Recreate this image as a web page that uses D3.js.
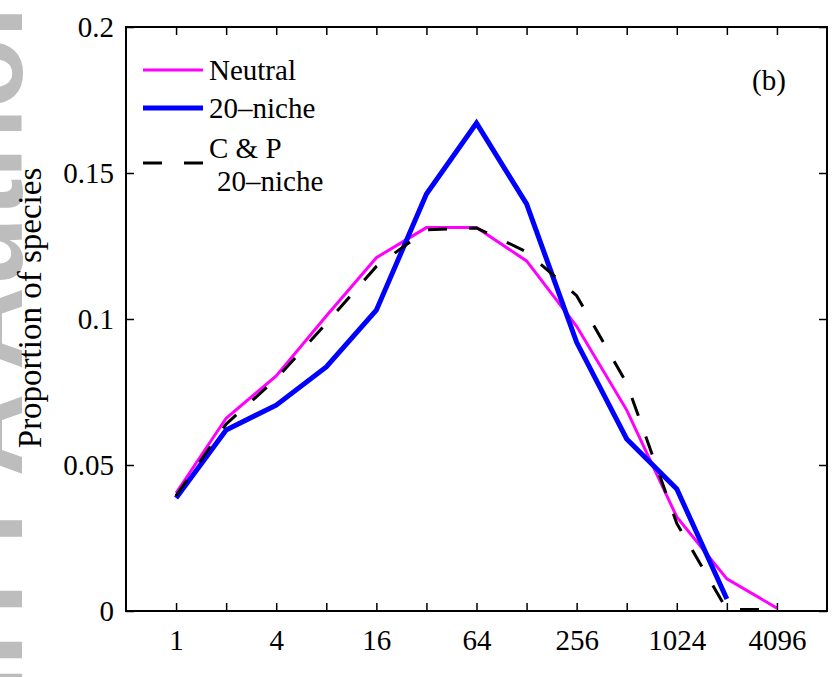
<!DOCTYPE html>
<html>
<head>
<meta charset="utf-8">
<script src="https://cdn.jsdelivr.net/npm/d3@7"></script>
<style>
  body { margin: 0; background: #fff; }
  svg { display: block; font-family: "Liberation Serif", "Times New Roman", serif; }
</style>
</head>
<body>
<div id="chart"></div>
<script>
// community size classes (log2 bins) and the three curves
var bins = [1, 2, 4, 8, 16, 32, 64, 128, 256, 512, 1024, 2048, 4096]
var neutral = [0.0404, 0.0660, 0.0805, 0.1010, 0.1210, 0.1313, 0.1313, 0.1199, 0.0975, 0.0688, 0.0322, 0.0110, 0.0010]
var niche20 = [0.0387, 0.0620, 0.0705, 0.0836, 0.1030, 0.1428, 0.1671, 0.1394, 0.0920, 0.0589, 0.0418, 0.0041]
var cpNiche = [0.0395, 0.0640, 0.0795, 0.0985, 0.1180, 0.1305, 0.1312, 0.1230, 0.1080, 0.0780, 0.0300, 0.0005, 0.0005]
var xTickLabels = [1, 4, 16, 64, 256, 1024, 4096]
var yTicks = [0, 0.05, 0.1, 0.15, 0.2]

var W = 835, H = 677
var m = {left: 126, top: 27, right: 827, bottom: 611}

var svg = d3.select("#chart").append("svg").attr("width", W).attr("height", H)
svg.append("rect").attr("width", W).attr("height", H).attr("fill", "#fff")

// faint watermark, only its edge shows at the left of the figure
var wm = svg.append("text")
  .style("font-family", "Liberation Sans, Arial, sans-serif")
  .style("font-weight", "bold")
  .style("font-size", "115px")
  .attr("fill", "#bdbdbd")
  .text("NIH-PA Author Manuscript")
var aPos = wm.node().getStartPositionOfChar(7).x
wm.attr("transform", "translate(22," + (370 + aPos) + ") rotate(-90)")

var x = d3.scaleLog().base(2).domain([0.5, 8192]).range([m.left, m.right])
var y = d3.scaleLinear().domain([0, 0.2]).range([m.bottom, m.top])

var g = svg.append("g")

var line = d3.line().x(function(d, i) { return x(bins[i]) }).y(function(d) { return y(d) })

g.append("path").datum(neutral).attr("d", line)
  .attr("fill", "none").attr("stroke", "#ff00ff").attr("stroke-width", 3)
g.append("path").datum(niche20).attr("d", line)
  .attr("fill", "none").attr("stroke", "#0000ff").attr("stroke-width", 5)
g.append("path").datum(cpNiche).attr("d", line)
  .attr("fill", "none").attr("stroke", "#000").attr("stroke-width", 3)
  .attr("stroke-dasharray", "19,22")

// axes, box style with inward ticks
var fmtY = function(d) { return d === 0 ? "0" : String(+d.toFixed(2)) }
var xAx = svg.append("g").attr("transform", "translate(0," + m.bottom + ")")
  .call(d3.axisBottom(x).tickValues(bins).tickSizeInner(-8).tickSizeOuter(0).tickPadding(18)
    .tickFormat(function(d) { return xTickLabels.indexOf(d) >= 0 ? d : "" }))
var xTop = svg.append("g").attr("transform", "translate(0," + m.top + ")")
  .call(d3.axisTop(x).tickValues(bins).tickSizeInner(-8).tickSizeOuter(0).tickFormat(""))
var yAx = svg.append("g").attr("transform", "translate(" + m.left + ",0)")
  .call(d3.axisLeft(y).tickValues(yTicks).tickSizeInner(-8).tickSizeOuter(0).tickPadding(12).tickFormat(fmtY))
var yRight = svg.append("g").attr("transform", "translate(" + m.right + ",0)")
  .call(d3.axisRight(y).tickValues(yTicks).tickSizeInner(-8).tickSizeOuter(0).tickFormat(""))

svg.selectAll(".domain").remove()
svg.selectAll(".tick line").attr("stroke", "#000").attr("stroke-width", 1.5)
svg.selectAll(".tick text").style("font-family", "Liberation Serif, serif").style("font-size", "29px").attr("fill", "#000")

svg.append("rect")
  .attr("x", m.left).attr("y", m.top)
  .attr("width", m.right - m.left).attr("height", m.bottom - m.top)
  .attr("fill", "none").attr("stroke", "#000").attr("stroke-width", 2)

svg.append("text")
  .attr("transform", "translate(41," + 308 + ") rotate(-90)")
  .attr("text-anchor", "middle")
  .style("font-size", "33px")
  .text("Proportion of species")

svg.append("text").attr("x", 752).attr("y", 90).style("font-size", "29px").text("(b)")

// legend
var leg = svg.append("g")
var legItems = [
  {color: "#ff00ff", w: 3, dash: null, y: 70},
  {color: "#0000ff", w: 5, dash: null, y: 108},
  {color: "#000", w: 3, dash: "19,22", y: 163}
]
legItems.forEach(function(d) {
  leg.append("line").attr("x1", 143).attr("x2", 203).attr("y1", d.y).attr("y2", d.y)
    .attr("stroke", d.color).attr("stroke-width", d.w).attr("stroke-dasharray", d.dash)
})
leg.append("text").attr("x", 209).attr("y", 80).style("font-size", "29px").text("Neutral")
leg.append("text").attr("x", 209).attr("y", 118).style("font-size", "29px").text("20\u2013niche")
leg.append("text").attr("x", 209).attr("y", 158).style("font-size", "29px").text("C & P")
leg.append("text").attr("x", 217).attr("y", 191).style("font-size", "29px").text("20\u2013niche")
</script>
</body>
</html>
